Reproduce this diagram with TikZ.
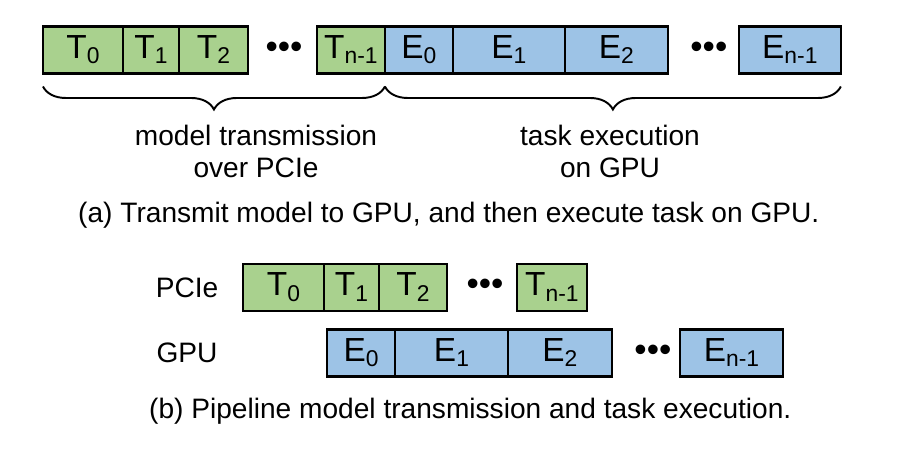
\documentclass[tikz,border=0pt]{standalone}
\usepackage{fontspec}
\setmainfont{Liberation Sans}
\usetikzlibrary{positioning,decorations.pathreplacing}

\definecolor{trgreen}{HTML}{A9D18E}
\definecolor{exblue}{HTML}{9DC3E6}
\newcommand{\lbl}[2]{#1\raisebox{-0.3ex}{\fontsize{13}{13}\selectfont #2}}

\begin{document}
\begin{tikzpicture}[x=0.02cm, y=0.02cm,
    blk/.style={draw, line width=1.5pt, minimum height=0.94cm, inner sep=0pt, outer sep=0pt,
      text height=0.95em, text depth=0pt, font=\fontsize{19}{20}\selectfont},
    tblk/.style={blk, fill=trgreen},
    eblk/.style={blk, fill=exblue},
    dotrow/.style={inner sep=0pt, font=\fontsize{20}{20}\selectfont},
    under/.style={decorate, decoration={brace, mirror, amplitude=0.46cm}, line width=1.1pt},
    txt/.style={font=\fontsize{16}{18.2}\selectfont, align=center}]

      \useasboundingbox (0, 0) rectangle (898, 454);

      % (a) transmit first, then execute
      \node[tblk, minimum width=1.6cm, anchor=west] (t0a) at (43, 404) {\lbl{T}{0}};
      \node[tblk, minimum width=1.12cm, right=0pt of t0a] (t1a) {\lbl{T}{1}};
      \node[tblk, minimum width=1.38cm, right=0pt of t1a] (t2a) {\lbl{T}{2}};
      \node[tblk, minimum width=1.36cm, right=1.38cm of t2a] (tn1a) {\lbl{T}{n-1}};
      \node[dotrow] (dta) at ([xshift=0.72cm]t2a.east) {\textbullet\textbullet\textbullet};

      \node[eblk, minimum width=1.36cm, right=0pt of tn1a] (e0a) {\lbl{E}{0}};
      \node[eblk, minimum width=2.24cm, right=0pt of e0a] (e1a) {\lbl{E}{1}};
      \node[eblk, minimum width=2.06cm, right=0pt of e1a] (e2a) {\lbl{E}{2}};
      \node[eblk, minimum width=2.04cm, right=1.42cm of e2a] (en1a) {\lbl{E}{n-1}};
      \node[dotrow] (dea) at ([xshift=0.82cm]e2a.east) {\textbullet\textbullet\textbullet};

      \draw[under] ([yshift=-0.26cm]t0a.south west) -- ([yshift=-0.26cm]tn1a.south east);
      \draw[under] ([yshift=-0.26cm]e0a.south west) -- ([yshift=-0.26cm]en1a.south east);

      \node[txt] (trtxt) at (256, 303) {model transmission\\over PCIe};
      \node[txt] (extxt) at (610, 303) {task execution\\on GPU};
      \node[txt, anchor=base west] (capa) at (72, 232) {(a) Transmit model to GPU, and then execute task on GPU.};

      % (b) pipelined
      \node[txt] (pcie) at (187, 166) {PCIe};
      \node[txt] (gpu) at (187, 101) {GPU};

      \node[tblk, minimum width=1.62cm, anchor=west] (t0b) at (243, 166.5) {\lbl{T}{0}};
      \node[tblk, minimum width=1.1cm, right=0pt of t0b] (t1b) {\lbl{T}{1}};
      \node[tblk, minimum width=1.36cm, right=0pt of t1b] (t2b) {\lbl{T}{2}};
      \node[tblk, minimum width=1.4cm, right=1.4cm of t2b] (tn1b) {\lbl{T}{n-1}};
      \node[dotrow] (dtb) at ([xshift=0.76cm]t2b.east) {\textbullet\textbullet\textbullet};

      \node[eblk, minimum width=1.36cm, anchor=west] (e0b) at (327, 101) {\lbl{E}{0}};
      \node[eblk, minimum width=2.26cm, right=0pt of e0b] (e1b) {\lbl{E}{1}};
      \node[eblk, minimum width=2.08cm, right=0pt of e1b] (e2b) {\lbl{E}{2}};
      \node[eblk, minimum width=2.06cm, right=1.36cm of e2b] (en1b) {\lbl{E}{n-1}};
      \node[dotrow] (deb) at ([xshift=0.82cm]e2b.east) {\textbullet\textbullet\textbullet};

      \node[txt, anchor=base west] (capb) at (143, 36) {(b) Pipeline model transmission and task execution.};

    \end{tikzpicture}
\end{document}
